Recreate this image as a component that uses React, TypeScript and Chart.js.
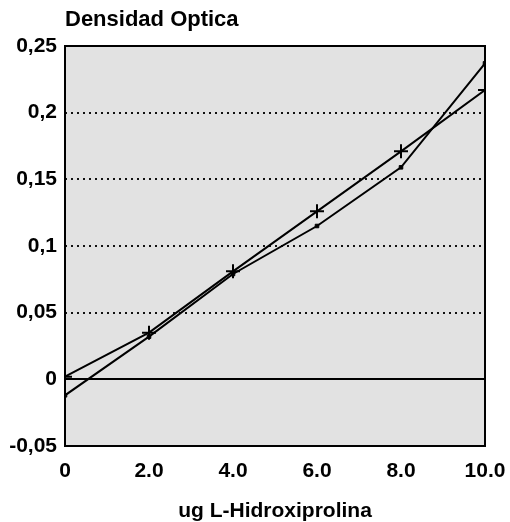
import React, { useEffect, useRef } from "react";
import { Chart, registerables } from "chart.js";

Chart.register(...registerables);

const xValues = [0, 2, 4, 6, 8, 10];
const crossSeries = [0.002, 0.035, 0.081, 0.126, 0.171, 0.217];
const dotSeries = [-0.012, 0.032, 0.079, 0.115, 0.159, 0.237];
const dottedGridValues = [0.05, 0.1, 0.15, 0.2];
const yTitle = "Densidad Optica";
const xTitle = "ug L-Hidroxiprolina";

const FONT = "'Liberation Sans', Arial, sans-serif";

const decorPlugin = {
  id: "decor",
  beforeDatasetsDraw(chart: any) {
    const { ctx, chartArea } = chart;
    const { left, right, top, bottom } = chartArea;
    const y = chart.scales.y;
    ctx.save();
    ctx.fillStyle = "#e2e2e2";
    ctx.fillRect(left, top, right - left, bottom - top);
    ctx.strokeStyle = "#111";
    ctx.lineWidth = 2;
    ctx.setLineDash([2, 4]);
    dottedGridValues.forEach((v) => {
      const py = Math.round(y.getPixelForValue(v));
      ctx.beginPath();
      ctx.moveTo(left, py);
      ctx.lineTo(right, py);
      ctx.stroke();
    });
    ctx.setLineDash([]);
    const zy = Math.round(y.getPixelForValue(0));
    ctx.strokeStyle = "#000";
    ctx.beginPath();
    ctx.moveTo(left, zy);
    ctx.lineTo(right, zy);
    ctx.stroke();
    ctx.restore();
  },
  afterDatasetsDraw(chart: any) {
    const { ctx, chartArea } = chart;
    const { left, right, top, bottom } = chartArea;
    ctx.save();
    ctx.strokeStyle = "#000";
    ctx.lineWidth = 2;
    ctx.strokeRect(left, top, right - left, bottom - top);
    ctx.fillStyle = "#000";
    ctx.font = `bold 22px ${FONT}`;
    ctx.textAlign = "left";
    ctx.textBaseline = "alphabetic";
    ctx.fillText(yTitle, left, 26);
    ctx.font = `bold 21px ${FONT}`;
    ctx.textAlign = "center";
    ctx.fillText(xTitle, (left + right) / 2, 517);
    ctx.restore();
  },
};

export default function App() {
  const ref = useRef<HTMLCanvasElement | null>(null);
  useEffect(() => {
    if (!ref.current) return;
    const chart = new Chart(ref.current, {
      type: "line",
      data: {
        datasets: [
          {
            label: "cross",
            data: xValues.map((x, i) => ({ x, y: crossSeries[i] })),
            borderColor: "#000",
            backgroundColor: "#000",
            borderWidth: 2,
            pointStyle: "cross",
            pointRadius: 7,
            pointBorderWidth: 2,
            tension: 0,
          },
          {
            label: "dot",
            data: xValues.map((x, i) => ({ x, y: dotSeries[i] })),
            borderColor: "#000",
            backgroundColor: "#000",
            borderWidth: 2,
            pointStyle: "rect",
            pointRadius: 2.5,
            pointBorderWidth: 1,
            tension: 0,
          },
        ],
      },
      options: {
        animation: false,
        responsive: false,
        devicePixelRatio: 1,
        layout: { padding: { top: 46, right: 25, left: 0, bottom: 0 } },
        plugins: {
          legend: { display: false },
          tooltip: { enabled: false },
          title: { display: false },
        },
        scales: {
          x: {
            type: "linear",
            min: 0,
            max: 10,
            grid: { display: false, drawTicks: false },
            border: { display: false },
            ticks: {
              stepSize: 2,
              padding: 13,
              color: "#000",
              font: { family: FONT, size: 21, weight: "bold" },
              callback: (v: any) => (v === 0 ? "0" : Number(v).toFixed(1)),
            },
            afterFit: (s: any) => {
              s.height = 76;
              s.paddingLeft = 0;
              s.paddingRight = 0;
            },
          },
          y: {
            type: "linear",
            min: -0.05,
            max: 0.25,
            grid: { display: false, drawTicks: false },
            border: { display: false },
            ticks: {
              stepSize: 0.05,
              padding: 8,
              color: "#000",
              font: { family: FONT, size: 21, weight: "bold" },
              callback: (v: any) =>
                String(Math.round(Number(v) * 100) / 100).replace(".", ","),
            },
            afterFit: (s: any) => {
              s.width = 65;
              s.paddingTop = 0;
              s.paddingBottom = 0;
            },
          },
        },
      },
      plugins: [decorPlugin],
    });
    return () => chart.destroy();
  }, []);
  return (
    <div style={{ position: "fixed", left: 0, top: 0, width: 510, height: 522, background: "#fff" }}>
      <canvas ref={ref} width={510} height={522} />
    </div>
  );
}
